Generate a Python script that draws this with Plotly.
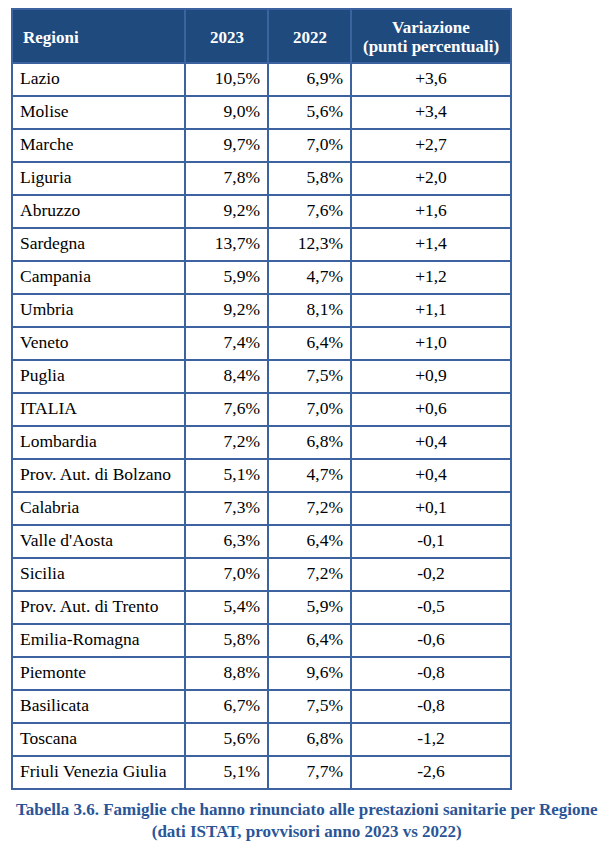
import plotly.graph_objects as go

regioni = ["Lazio", "Molise", "Marche", "Liguria", "Abruzzo", "Sardegna", "Campania",
           "Umbria", "Veneto", "Puglia", "ITALIA", "Lombardia", "Prov. Aut. di Bolzano",
           "Calabria", "Valle d'Aosta", "Sicilia", "Prov. Aut. di Trento", "Emilia-Romagna",
           "Piemonte", "Basilicata", "Toscana", "Friuli Venezia Giulia"]
val_2023 = [10.5, 9.0, 9.7, 7.8, 9.2, 13.7, 5.9, 9.2, 7.4, 8.4, 7.6, 7.2, 5.1, 7.3,
            6.3, 7.0, 5.4, 5.8, 8.8, 6.7, 5.6, 5.1]
val_2022 = [6.9, 5.6, 7.0, 5.8, 7.6, 12.3, 4.7, 8.1, 6.4, 7.5, 7.0, 6.8, 4.7, 7.2,
            6.4, 7.2, 5.9, 6.4, 9.6, 7.5, 6.8, 7.7]
variazione = [3.6, 3.4, 2.7, 2.0, 1.6, 1.4, 1.2, 1.1, 1.0, 0.9, 0.6, 0.4, 0.4, 0.1,
              -0.1, -0.2, -0.5, -0.6, -0.8, -0.8, -1.2, -2.6]
header_labels = ["Regioni", "2023", "2022", "Variazione<br>(punti percentuali)"]
caption = ("Tabella 3.6. Famiglie che hanno rinunciato alle prestazioni sanitarie per Regione"
           "<br>(dati ISTAT, provvisori anno 2023 vs 2022)")


def pct(v):
    return f"{v:.1f}%".replace(".", ",")


def var(v):
    return f"{v:+.1f}".replace(".", ",")


W, H = 612, 860
OFF = 8  # page body margin
col_edges = [12, 185, 268, 351, 511]
y_top = 9
header_h = 54
row_h = 33
total_h = header_h + row_h * len(regioni)

border = "#3d62a0"
header_bg = "#1f4a7e"
font_family = "Liberation Serif"
fsize = 17.5
hsize = 17


def px(x):
    return (x - OFF) / W


def py(y):
    return 1 - (y - OFF) / H


widths = [col_edges[i + 1] - col_edges[i] for i in range(4)]

fig = go.Figure(go.Table(
    columnwidth=widths,
    domain=dict(x=[px(col_edges[0]), px(col_edges[-1])],
                y=[py(y_top + total_h + 6), py(y_top)]),
    header=dict(
        values=["", "", "", ""],
        fill_color=header_bg,
        line=dict(color=border, width=2),
        font=dict(family=font_family, size=hsize, color="white"),
        height=header_h,
    ),
    cells=dict(
        values=[regioni, [pct(v) for v in val_2023], [pct(v) for v in val_2022],
                [var(v) for v in variazione]],
        fill_color="white",
        line=dict(color=border, width=2),
        align=["left", "right", "right", "center"],
        font=dict(family=font_family, size=fsize, color="black"),
        height=row_h,
    ),
))

# header labels, vertically centred in the header band (line by line)
for i, lab in enumerate(header_labels):
    if i == 0:
        xa, xanc = col_edges[0] + 9, "left"
    else:
        xa, xanc = (col_edges[i] + col_edges[i + 1]) / 2, "center"
    lines = lab.split("<br>")
    n = len(lines)
    for j, ln in enumerate(lines):
        yc = y_top + header_h / 2 + 1 + (j - (n - 1) / 2) * 18.5
        fig.add_annotation(
            text=f"<b>{ln}</b>", x=px(xa), y=py(yc),
            xref="paper", yref="paper", xanchor=xanc, yanchor="middle",
            showarrow=False, align="center",
            font=dict(family=font_family, size=hsize, color="white"),
        )

fig.add_annotation(
    text=f"<b>{caption}</b>", x=px(307), y=py(798), xref="paper", yref="paper",
    xanchor="center", yanchor="top", showarrow=False, align="center",
    font=dict(family=font_family, size=17, color="#2a5597"),
)

fig.update_layout(width=W, height=H, margin=dict(l=0, r=0, t=0, b=0),
                  paper_bgcolor="white", plot_bgcolor="white")
fig.write_html("out.html")
